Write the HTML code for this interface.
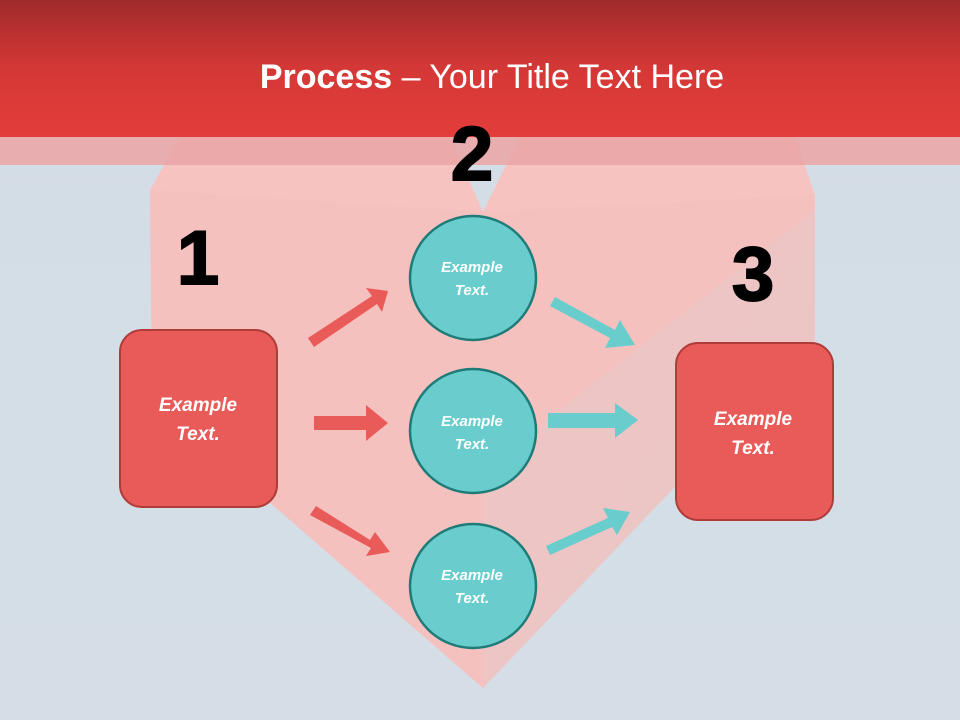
<!DOCTYPE html>
<html><head><style>
body{margin:0;width:960px;height:720px;overflow:hidden;font-family:"Liberation Sans",sans-serif}
</style></head><body>
<svg width="960" height="720" viewBox="0 0 960 720" xmlns="http://www.w3.org/2000/svg">
<defs>
<linearGradient id="bg" x1="0" y1="0" x2="0" y2="1"><stop offset="0" stop-color="#d3dde6"/><stop offset="1" stop-color="#d5dee6"/></linearGradient>
<linearGradient id="hd" x1="0" y1="0" x2="0" y2="1"><stop offset="0" stop-color="#a02a2a"/><stop offset="0.5" stop-color="#d43836"/><stop offset="1" stop-color="#e33d3a"/></linearGradient>
</defs>
<rect width="960" height="720" fill="url(#bg)"/>
<polygon points="150,190 180,137 450,137 483,212 520,137 795,137 815,195 815,340 483,688 152,400" fill="#f6c3c1"/>
<polygon points="150,190 483,212 815,195 815,240 483,688 152,400" fill="#f4c0be" opacity="0.6"/>
<polygon points="483,470 815,210 815,340 483,688" fill="#e8c6c6" opacity="0.7"/>
<rect y="137" width="960" height="28" fill="#eaa4a4" opacity="0.85"/>
<rect width="960" height="137" fill="url(#hd)"/>
<text x="492" y="88" text-anchor="middle" fill="#fff" font-size="34"><tspan font-weight="bold">Process</tspan> – Your Title Text Here</text>
<g font-weight="bold" font-size="76" fill="#000" text-anchor="middle" stroke="#000" stroke-width="2">
<text x="472" y="180">2</text><text x="198" y="284">1</text><text x="753" y="300">3</text>
</g>
<rect x="120" y="330" width="157" height="177" rx="22" fill="#e85b58" stroke="#b03c3a" stroke-width="2"/>
<rect x="676" y="343" width="157" height="177" rx="22" fill="#e85b58" stroke="#b03c3a" stroke-width="2"/>
<g fill="#68cdcc" stroke="#1f7b78" stroke-width="2.5">
<ellipse cx="473" cy="278" rx="63" ry="62"/><ellipse cx="473" cy="431" rx="63" ry="62"/><ellipse cx="473" cy="586" rx="63" ry="62"/>
</g>
<g fill="#fff" font-style="italic" font-weight="bold" text-anchor="middle">
<g font-size="19"><text x="198" y="411">Example</text><text x="198" y="440">Text.</text>
<text x="753" y="425">Example</text><text x="753" y="454">Text.</text></g>
<g font-size="15"><text x="472" y="272">Example</text><text x="472" y="295">Text.</text>
<text x="472" y="426">Example</text><text x="472" y="449">Text.</text>
<text x="472" y="580">Example</text><text x="472" y="603">Text.</text></g>
</g>
<g fill="#e85b58">
<polygon points="308,338 372,296 366,288 388,291 382,312 377,304 314,347"/>
<polygon points="314,416 366,416 366,405 388,423 366,441 366,430 314,430"/>
<polygon points="316,506 370,540 375,532 390,552 366,556 371,548 310,515"/>
</g>
<g fill="#68cdcc">
<polygon points="555,297 615,330 620,320 635,345 605,348 610,338 550,306"/>
<polygon points="548,413 615,413 615,403 638,420 615,438 615,428 548,428"/>
<polygon points="546,546 608,518 603,508 630,512 617,535 612,527 550,555"/>
</g>
</svg>
</body></html>
